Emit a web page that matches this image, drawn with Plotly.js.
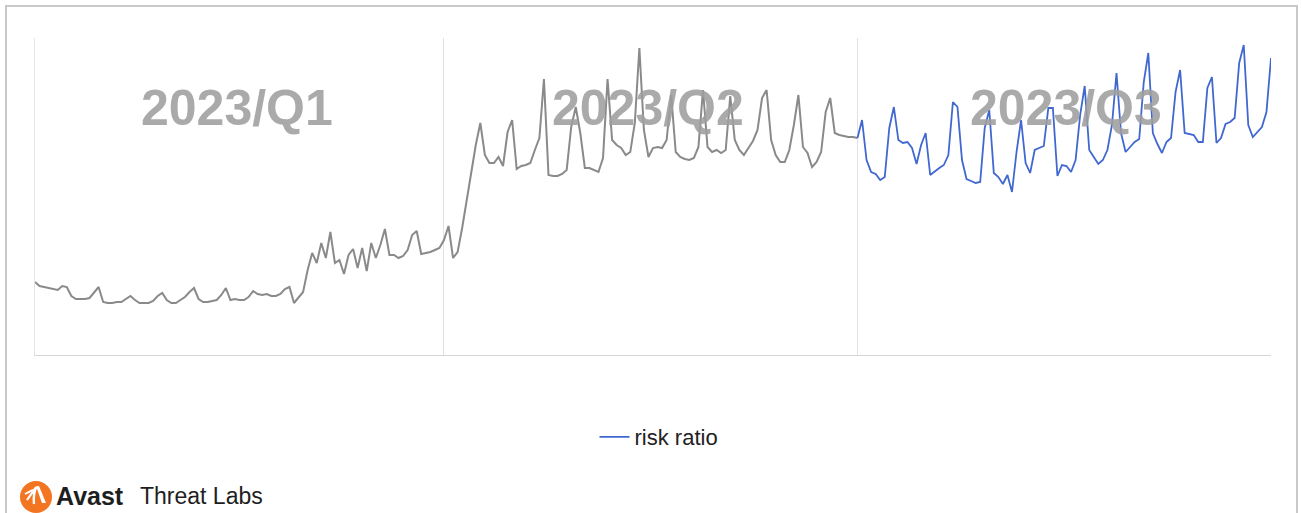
<!DOCTYPE html>
<html>
<head>
<meta charset="utf-8">
<script src="https://cdn.plot.ly/plotly-3.0.1.min.js"></script>
<style>
  html, body { margin: 0; padding: 0; background: #ffffff; }
  #chart { width: 1301px; height: 513px; }
</style>
</head>
<body>
<div id="chart"></div>
<script>
// ---- Data (daily, 2023-01-01 .. 2023-09-30), arbitrary units ----
const startDate = '2023-01-01';
const q1Values = [73,69,68,67,66,65,69,68,59,56,56,56,57,63,68,53,52,52,53,53,56,59,55,52,52,52,54,59,62,55,
  52,52,55,58,63,67,56,53,53,54,55,60,67,55,56,55,55,58,64,61,60,61,59,59,61,66,68,52,58,63,
  85,102,92,112,97,123,92,95,81,100,106,87,107,84,112,97,110,126,100,100,97,99,105,120,124,101,102,103,105,107];
const q2Values = [115,129,97,103,127,155,185,210,232,200,192,192,198,189,223,235,186,189,190,192,205,217,276,180,179,179,181,185,228,248,
  222,187,187,185,183,197,276,215,210,207,200,203,232,307,225,198,207,208,207,215,260,203,198,196,195,197,208,265,208,203,
  205,202,205,259,215,205,200,207,214,225,257,265,215,200,193,193,205,230,260,208,202,188,193,203,243,257,222,220,219,218,218];
const q3Values = [217,235,195,183,181,175,178,227,248,215,212,213,207,191,210,222,180,184,187,190,200,253,248,195,176,174,172,173,227,245,
  182,178,171,180,163,203,235,192,182,205,207,209,247,247,179,190,189,183,195,240,269,205,198,191,195,205,230,282,222,203,
  208,213,216,273,302,222,211,202,213,217,263,285,222,221,220,213,213,267,278,212,217,231,233,237,292,310,230,218,223,228,243,297];
const quarterLabels = ['2023/Q1', '2023/Q2', '2023/Q3'];
const quarterStarts = ['2023-04-01', '2023-07-01'];
const seriesName = 'risk ratio';

// ---- Build date axis ----
function dayStr(i) {
  const d = new Date(Date.parse(startDate + 'T00:00:00Z') + i * 86400000);
  return d.toISOString().slice(0, 10);
}
const allValues = q1Values.concat(q2Values, q3Values);
const dates = allValues.map((_, i) => dayStr(i));
const q3Start = q1Values.length + q2Values.length;

const grayTrace = {
  x: dates.slice(0, q3Start + 1),
  y: allValues.slice(0, q3Start + 1),
  type: 'scatter', mode: 'lines',
  line: { color: '#8a8a8a', width: 2 },
  showlegend: false, hoverinfo: 'skip'
};
const blueTrace = {
  x: dates.slice(q3Start),
  y: allValues.slice(q3Start),
  type: 'scatter', mode: 'lines',
  name: seriesName,
  line: { color: '#4068d0', width: 1.8 },
  hoverinfo: 'skip'
};

// pixel helpers for paper coordinates (plot area: x 35..1271, y 38..355)
const L = 35, R = 1271, T = 38, B = 355;
const px = v => (v - L) / (R - L);
const py = v => (B - v) / (B - T);

const qFont = { family: 'Liberation Sans, Arial, sans-serif', size: 50, color: 'rgba(158,158,158,0.88)' };
const qCenters = [237, 648, 1066];
const annotations = quarterLabels.map((t, k) => ({
  text: '<b>' + t + '</b>', xref: 'paper', yref: 'paper',
  x: px(qCenters[k]), y: py(108), xanchor: 'center', yanchor: 'middle',
  showarrow: false, font: qFont
}));
annotations.push({
  text: '<b>Avast</b>', xref: 'paper', yref: 'paper', x: px(54), y: py(496),
  xanchor: 'left', yanchor: 'middle', showarrow: false,
  font: { family: 'Liberation Sans, Arial, sans-serif', size: 25, color: '#1e1e1e' }
});
annotations.push({
  text: 'Threat Labs', xref: 'paper', yref: 'paper', x: px(138), y: py(496),
  xanchor: 'left', yanchor: 'middle', showarrow: false,
  font: { family: 'Liberation Sans, Arial, sans-serif', size: 23, color: '#1e1e1e' }
});

const iconAnchor = { xref: 'paper', yref: 'paper', xsizemode: 'pixel', ysizemode: 'pixel',
  xanchor: px(36), yanchor: py(497) };
const shapes = [
  { type: 'rect', xref: 'paper', yref: 'paper', x0: px(6), x1: px(1297), y0: py(540), y1: py(6),
    line: { color: '#c9c9c9', width: 2 }, fillcolor: 'rgba(0,0,0,0)' },
  Object.assign({ type: 'circle', x0: -16, x1: 16, y0: -16, y1: 16,
    fillcolor: '#f47521', line: { width: 0 } }, iconAnchor),
  Object.assign({ type: 'path', path: 'M 0 11 L 3 11 L 10 -6 L 6 -6 Z',
    fillcolor: '#ffffff', line: { width: 0 } }, iconAnchor),
  Object.assign({ type: 'path', path: 'M 0 10 Q -3 2 -2 -7', line: { color: '#ffffff', width: 2.4 } }, iconAnchor),
  Object.assign({ type: 'path', path: 'M 0 9 Q -5 3 -9 -3', line: { color: '#ffffff', width: 2.2 } }, iconAnchor),
  Object.assign({ type: 'path', path: 'M 0 8 Q -6 6 -11 3', line: { color: '#ffffff', width: 2 } }, iconAnchor)
];

const layout = {
  width: 1301, height: 513,
  margin: { l: L, r: 1301 - R, t: T, b: 513 - B, pad: 0 },
  paper_bgcolor: '#ffffff', plot_bgcolor: '#ffffff',
  xaxis: {
    type: 'date', range: [dates[0], dates[dates.length - 1]],
    tickmode: 'array', tickvals: quarterStarts, showticklabels: false, ticks: '',
    showgrid: true, gridcolor: '#e2e2e2', gridwidth: 1,
    showline: true, linecolor: '#d6d6d6', linewidth: 1, zeroline: false, fixedrange: true
  },
  yaxis: {
    range: [0, 317], showticklabels: false, ticks: '', showgrid: false, zeroline: false,
    showline: true, linecolor: '#e6e6e6', linewidth: 1, fixedrange: true
  },
  showlegend: true,
  legend: {
    orientation: 'h', x: px(659), xanchor: 'center', y: py(437), yanchor: 'middle',
    font: { family: 'Liberation Sans, Arial, sans-serif', size: 22, color: '#222222' },
    bgcolor: 'rgba(0,0,0,0)'
  },
  annotations: annotations,
  shapes: shapes,
  hovermode: false
};

Plotly.newPlot('chart', [grayTrace, blueTrace], layout, { displayModeBar: false, staticPlot: true });
</script>
</body>
</html>
